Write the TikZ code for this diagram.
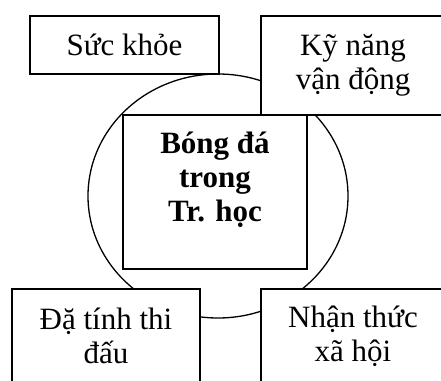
\documentclass[tikz,border=0pt]{standalone}
\usepackage{fontspec}
\setmainfont{Liberation Serif}
\usetikzlibrary{shapes.geometric}
\tikzset{
	topic/.style={draw, rectangle, line width=1.5pt, fill=white, inner sep=0pt, align=center, font=\fontsize{31}{34}\selectfont},
	hub/.style={topic, font=\fontsize{31}{34}\selectfont\bfseries},
	ring/.style={draw, ellipse, line width=1.3pt, inner sep=0pt},
}

\begin{document}
\begin{tikzpicture}[x=1pt, y=-1pt]
	\path[use as bounding box, clip] (0,0) rectangle (441,380);
	
	\node (circle) [ring, minimum width=260pt, minimum height=244pt] at (218,196) {};
	
	\node (health) [topic, minimum width=189pt, minimum height=58pt] at (124.5,45) {Sức khỏe};
	\node (motor) [topic, minimum width=184pt, minimum height=99pt] at (353,65.5) {Kỹ năng\\vận động};
	\node (school) [hub, minimum width=184pt, minimum height=154pt, text depth=30pt] at (215,192) {Bóng đá\\trong\\Tr. học};
	
	\node (contest) [topic, minimum width=188pt, minimum height=94pt] at (106,336) {Đặ tính thi\\đấu};
	\node (social) [topic, minimum width=184pt, minimum height=94pt] at (353,336) {Nhận thức\\xã hội};
\end{tikzpicture}
\end{document}
